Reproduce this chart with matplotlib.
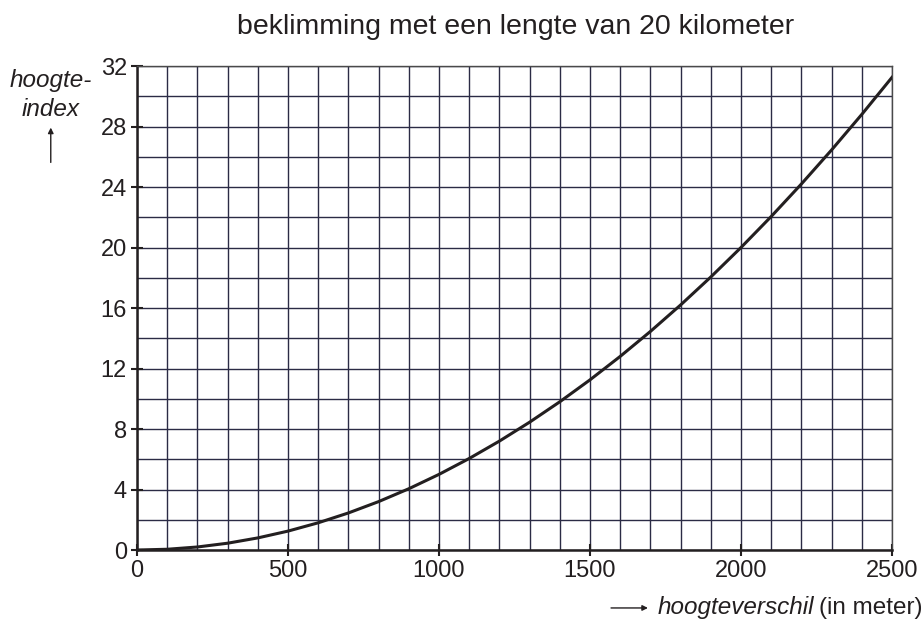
import matplotlib.pyplot as plt

plt.rcParams.update({
    "font.family": ["Liberation Sans", "DejaVu Sans"],
    "font.size": 17,
})

# hoogteverschil (m) and hoogte-index
hoogteverschil = [0, 100, 200, 300, 400, 500, 600, 700, 800, 900, 1000, 1100, 1200,
                  1300, 1400, 1500, 1600, 1700, 1800, 1900, 2000, 2100, 2200, 2300,
                  2400, 2500]
hoogte_index = [0, 0.05, 0.2, 0.45, 0.8, 1.25, 1.8, 2.45, 3.2, 4.05, 5.0, 6.05, 7.2,
                8.45, 9.8, 11.25, 12.8, 14.45, 16.2, 18.05, 20.0, 22.05, 24.2, 26.45,
                28.8, 31.25]

x_ticks = [0, 500, 1000, 1500, 2000, 2500]
y_ticks = [0, 4, 8, 12, 16, 20, 24, 28, 32]

fig = plt.figure(figsize=(9.23, 6.21), dpi=100)
ax = fig.add_axes([0.1484, 0.1143, 0.818, 0.7794])

ax.set_xlim(0, 2500)
ax.set_ylim(0, 32)
ax.set_xticks(x_ticks)
ax.set_yticks(y_ticks)
ax.set_xticks(range(0, 2501, 100), minor=True)
ax.set_yticks(range(0, 33, 2), minor=True)
ax.grid(True, which="both", color="#2b2b45", linewidth=1.0)
ax.tick_params(which="major", direction="inout", length=8.5, width=1.5,
               labelsize=17, colors="#231f20", pad=3)
ax.tick_params(which="minor", length=0)
for s in ax.spines.values():
    s.set_linewidth(1.0)
    s.set_color("#4a4a4a")
ax.spines["left"].set_linewidth(1.8)
ax.spines["left"].set_color("#231f20")
ax.spines["bottom"].set_linewidth(1.8)
ax.spines["bottom"].set_color("#231f20")

ax.plot(hoogteverschil, hoogte_index, color="#231f20", linewidth=2.2, zorder=3)

fig.text(0.559, 0.956, "beklimming met een lengte van 20 kilometer",
         ha="center", va="center", fontsize=20.5, color="#231f20")

# y-axis label with arrow
fig.text(0.055, 0.847, "hoogte-\nindex", ha="center", va="center",
         fontsize=17.5, style="italic", color="#231f20", linespacing=1.3)
fig.add_artist(plt.Annotation("", xy=(0.055, 0.799), xytext=(0.055, 0.734),
                              xycoords="figure fraction",
                              arrowprops=dict(arrowstyle="-|>", color="#231f20",
                                              lw=1.0, mutation_scale=8)))

# x-axis label with arrow
fig.add_artist(plt.Annotation("", xy=(0.705, 0.021), xytext=(0.659, 0.021),
                              xycoords="figure fraction",
                              arrowprops=dict(arrowstyle="-|>", color="#231f20",
                                              lw=1.0, mutation_scale=8)))
t = fig.text(0.712, 0.021, "hoogteverschil", ha="left", va="center",
             fontsize=17.5, style="italic", color="#231f20")
fig.canvas.draw()
bb = t.get_window_extent().transformed(fig.transFigure.inverted())
fig.text(bb.x1 + 0.006, 0.021, "(in meter)", ha="left", va="center",
         fontsize=17.5, color="#231f20")

fig.savefig("out.png", dpi=100)
